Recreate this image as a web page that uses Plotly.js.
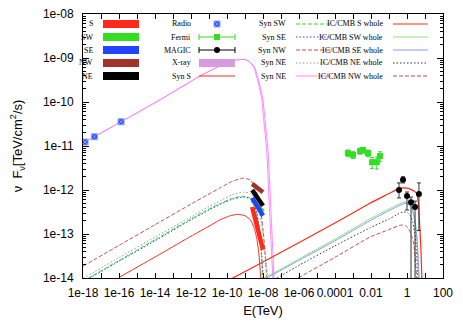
<!DOCTYPE html>
<html>
<head>
<meta charset="utf-8">
<script src="https://cdn.plot.ly/plotly-3.0.1.min.js"></script>
<style>
html, body { margin: 0; padding: 0; background: #fff; }
#sed { width: 463px; height: 323px; }
</style>
</head>
<body>
<div id="sed"></div>
<script>
// observed points
var radioE = [1.3e-18, 4.3e-18, 1.3e-16];
var radioF = [1.23e-11, 1.62e-11, 3.55e-11];

var fermiE = [5.2e-4, 1.0e-3, 2.5e-3, 3.6e-3, 6.8e-3, 1.15e-2, 2.1e-2, 3.2e-2];
var fermiF = [6.9e-12, 6.3e-12, 7.7e-12, 8.1e-12, 6.9e-12, 4.3e-12, 4.3e-12, 5.9e-12];
var fermiErrF = [1.2e-12, 1.1e-12, 1.2e-12, 1.2e-12, 1.2e-12, 1.2e-12, 1.3e-12, 1.5e-12];
var fermiErrE = [1.3e-4, 2.5e-4, 6e-4, 9e-4, 1.7e-3, 2.9e-3, 5e-3, 8e-3];

var magicE = [0.36, 0.6, 1.0, 1.67, 2.8, 4.6];
var magicF = [1.0e-12, 1.7e-12, 7.3e-13, 5.3e-13, 4.1e-13, 8.1e-13];
var magicErrUp = [4.5e-13, 3.0e-13, 1.7e-13, 1.6e-13, 1.5e-13, 6.4e-13];
var magicErrDown = [3.4e-13, 2.5e-13, 3.8e-13, 5.3e-13, 4.1e-13, 6.9e-13];

// X-ray bowties (2-10 keV)
var xrayE = [2.5e-9, 1.0e-8];
var xrayS = [4.1e-13, 4.4e-14];
var xraySW = [5.9e-13, 3.2e-13];
var xraySE = [6.6e-13, 2.6e-13];
var xrayNW = [1.38e-12, 8.9e-13];
var xrayNE = [1.0e-12, 4.4e-13];

// synchrotron models
var synS_E = [1e-16, 1e-14, 1e-12, 1e-11, 4.1e-11, 1.5e-10, 4e-10, 1e-9, 2e-9, 3.2e-9, 4.5e-9, 6e-9, 7.8e-9];
var synS_F = [1.03e-14, 3e-14, 8.9e-14, 1.5e-13, 2.1e-13, 2.6e-13, 2.8e-13, 2.6e-13, 2.1e-13, 1.4e-13, 8e-14, 3.3e-14, 8e-15];
var synSW_E = [1e-18, 1e-16, 1e-14, 1e-12, 1e-11, 5e-11, 2e-10, 7.9e-10, 2e-9, 4.1e-9, 6.8e-9, 1e-8];
var synSW_F = [8.5e-15, 2.5e-14, 7.4e-14, 2.2e-13, 3.7e-13, 5.1e-13, 6.5e-13, 7.2e-13, 6.6e-13, 3.55e-13, 9.5e-14, 8e-15];
var synSE_E = [1e-18, 1e-16, 1e-14, 1e-12, 1e-11, 5e-11, 2e-10, 7.9e-10, 2e-9, 4.3e-9, 7.2e-9, 1.05e-8];
var synSE_F = [8.1e-15, 2.4e-14, 7e-14, 2.1e-13, 3.5e-13, 4.9e-13, 6.2e-13, 6.9e-13, 6.3e-13, 3.4e-13, 9e-14, 8e-15];
var synNW_E = [1e-18, 1e-16, 1e-14, 1e-12, 1e-11, 5e-11, 2e-10, 7.9e-10, 1.9e-9, 3.6e-9, 6.8e-9, 1.15e-8, 1.66e-8];
var synNW_F = [1.86e-14, 5.5e-14, 1.62e-13, 4.8e-13, 8.1e-13, 1.17e-12, 1.58e-12, 1.86e-12, 1.7e-12, 1.17e-12, 4.6e-13, 7.2e-14, 8e-15];
var synNE_E = [1e-18, 1e-16, 1e-14, 1e-12, 1e-11, 5e-11, 2e-10, 7.9e-10, 1.9e-9, 4.1e-9, 7.8e-9, 1.3e-8, 1.9e-8];
var synNE_F = [9.8e-15, 2.9e-14, 8.5e-14, 2.45e-13, 4.2e-13, 5.9e-13, 7.9e-13, 8.9e-13, 8.5e-13, 5.9e-13, 2.1e-13, 4.4e-14, 8e-15];
// whole-remnant synchrotron (two runs)
var synWideE = [1e-18, 1.3e-16, 1.9e-14, 3.2e-12, 4.1e-11, 2.75e-10, 1e-9, 1.9e-9, 3.6e-9, 5.2e-9, 7.8e-9, 1e-8, 1.3e-8, 1.9e-8, 2.75e-8, 4.1e-8];
var synWideF = [1.17e-11, 3.55e-11, 1.12e-10, 3.9e-10, 6.6e-10, 8.9e-10, 9.3e-10, 8.1e-10, 5.9e-10, 3.55e-10, 1.86e-10, 1.12e-10, 3.9e-11, 8.1e-12, 3.55e-13, 1e-14];
var synWide2E = [1e-18, 1.3e-16, 1.9e-14, 3.2e-12, 4.1e-11, 2.75e-10, 1e-9, 1.9e-9, 3.2e-9, 4.6e-9, 6.8e-9, 8.7e-9, 1.1e-8, 1.6e-8, 2.3e-8, 3.5e-8];
var synWide2F = [1.17e-11, 3.55e-11, 1.12e-10, 3.9e-10, 6.6e-10, 8.9e-10, 9.3e-10, 8.1e-10, 5.9e-10, 3.55e-10, 1.86e-10, 1.12e-10, 3.9e-11, 8.1e-12, 3.55e-13, 1e-14];

// IC/CMB models
var icS_E = [1e-10, 1e-8, 1.15e-6, 1e-4, 8.7e-3, 0.1, 0.3, 0.6, 1.0, 1.48, 2.45, 3.6, 4.4, 5.25, 6.0, 6.8];
var icS_F = [8.5e-15, 2.3e-14, 6.6e-14, 1.78e-13, 5e-13, 8.3e-13, 1.05e-12, 1.12e-12, 1.1e-12, 1.05e-12, 9.5e-13, 8.1e-13, 4.5e-13, 1.23e-13, 4e-14, 8e-15];
var icSW_E = [1e-9, 1e-7, 1.15e-6, 1e-4, 8.7e-3, 0.1, 0.41, 0.78, 1.48, 2.0, 2.45, 3.0, 3.6, 4.7];
var icSW_F = [5.9e-15, 1.6e-14, 2.8e-14, 7.6e-14, 2.2e-13, 3.7e-13, 4.9e-13, 5.4e-13, 4.8e-13, 3.8e-13, 2.7e-13, 1.6e-13, 7.2e-14, 8e-15];
var icSE_E = [1e-9, 1e-7, 1.15e-6, 1e-4, 8.7e-3, 0.1, 0.41, 0.78, 1.48, 2.0, 2.45, 3.0, 3.7, 4.8];
var icSE_F = [5.4e-15, 1.5e-14, 2.6e-14, 7e-14, 2.0e-13, 3.4e-13, 4.5e-13, 5.0e-13, 4.4e-13, 3.5e-13, 2.5e-13, 1.5e-13, 6.8e-14, 8e-15];
var icNE_E = [6e-8, 1.15e-6, 1e-4, 8.7e-3, 0.1, 0.3, 0.6, 1.15, 1.6, 2.1, 2.6, 3.2, 4.1];
var icNE_F = [1e-14, 2e-14, 5.4e-14, 1.38e-13, 2.2e-13, 2.8e-13, 3.2e-13, 3.0e-13, 2.5e-13, 1.86e-13, 1.12e-13, 5.6e-14, 8e-15];
var icNW_E = [8.7e-7, 1e-4, 8.7e-3, 0.1, 0.41, 0.78, 1.2, 1.48, 2.0, 2.45, 3.6];
var icNW_F = [1e-14, 2.95e-14, 8.5e-14, 1.26e-13, 1.58e-13, 1.58e-13, 1.32e-13, 1.12e-13, 7.9e-14, 5.6e-14, 8e-15];

var xTickVals = [1e-18, 1e-16, 1e-14, 1e-12, 1e-10, 1e-8, 1e-6, 1e-4, 1e-2, 1, 100];
var xTickText = ['1e-18', '1e-16', '1e-14', '1e-12', '1e-10', '1e-08', '1e-06', '0.0001', '0.01', '1', '100'];
var xMinorVals = [1e-17, 1e-15, 1e-13, 1e-11, 1e-9, 1e-7, 1e-5, 1e-3, 0.1, 10];
var yTickVals = [1e-14, 1e-13, 1e-12, 1e-11, 1e-10, 1e-9, 1e-8];
var yTickText = ['1e-14', '1e-13', '1e-12', '1e-11', '1e-10', '1e-09', '1e-08'];

// styles
var RED = '#ff2a1a', GREEN = '#33dd22', BLUE = '#2244ff', BROWN = '#a3332a';
var DASH = '4px,2px', DOT = '1.5px,2px';

var st = {
    boxS:   {box: true, color: RED},
    boxSW:  {box: true, color: GREEN},
    boxSE:  {box: true, color: BLUE},
    boxNW:  {box: true, color: BROWN},
    boxNE:  {box: true, color: '#000'},
    radio:  {marker: {symbol: 'square-x', size: 6, color: BLUE, line: {color: '#8fa6ff', width: 1}}},
    fermi:  {marker: {symbol: 'square', size: 6, color: GREEN}, err: GREEN},
    magic:  {marker: {symbol: 'circle', size: 6, color: '#000'}, err: '#000'},
    xray:   {box: true, color: '#d89ae0'},
    synS:   {line: {color: RED, width: 1}},
    synSW:  {line: {color: GREEN, width: 1, dash: DASH}},
    synSE:  {line: {color: BLUE, width: 1, dash: DOT}},
    synNW:  {line: {color: '#c0504a', width: 1, dash: DASH}},
    synNE:  {line: {color: '#999', width: 1, dash: DOT}},
    synWide:{line: {color: '#ff88ff', width: 1}},
    icS:    {line: {color: RED, width: 1.2}},
    icSW:   {line: {color: '#88e27a', width: 1}},
    icSE:   {line: {color: '#8899ff', width: 1}},
    icNE:   {line: {color: '#333', width: 1, dash: DOT}},
    icNW:   {line: {color: '#c0504a', width: 1, dash: DASH}}
};

function curve(x, y, s) {
    return {x: x, y: y, mode: 'lines', type: 'scatter', line: Object.assign({shape: 'spline', smoothing: 0.4}, s.line), hoverinfo: 'skip'};
}
function bow(x, y, s) {
    return {x: x, y: y, mode: 'lines', type: 'scatter', line: {color: s.color, width: 4.5}, hoverinfo: 'skip'};
}

var traces = [
    curve(synWideE, synWideF, st.synWide),
    curve(synWide2E, synWide2F, st.synWide),
    curve(synS_E, synS_F, st.synS),
    curve(synSW_E, synSW_F, st.synSW),
    curve(synSE_E, synSE_F, st.synSE),
    curve(synNW_E, synNW_F, st.synNW),
    curve(synNE_E, synNE_F, st.synNE),
    curve(icS_E, icS_F, st.icS),
    curve(icSW_E, icSW_F, st.icSW),
    curve(icSE_E, icSE_F, st.icSE),
    curve(icNE_E, icNE_F, st.icNE),
    curve(icNW_E, icNW_F, st.icNW),
    bow(xrayE, xrayS, st.boxS),
    bow(xrayE, xraySW, st.boxSW),
    bow(xrayE, xraySE, st.boxSE),
    bow(xrayE, xrayNE, st.boxNE),
    bow(xrayE, xrayNW, st.boxNW),
    {x: radioE, y: radioF, mode: 'markers', type: 'scatter', marker: st.radio.marker},
    {x: fermiE, y: fermiF, mode: 'markers', type: 'scatter', marker: st.fermi.marker,
     error_y: {type: 'data', array: fermiErrF, color: GREEN, thickness: 1, width: 2},
     error_x: {type: 'data', array: fermiErrE, color: GREEN, thickness: 1, width: 2}},
    {x: magicE, y: magicF, mode: 'markers', type: 'scatter', marker: st.magic.marker,
     error_y: {type: 'data', array: magicErrUp, arrayminus: magicErrDown, color: '#333', thickness: 1, width: 2}}
];

// key, drawn gnuplot-style on an overlay axis (0..1 = plot area)
var L = 83, R = 443, T = 14, B = 278;
function px(xp) { return (xp - L) / (R - L); }
function py(yp) { return (B - yp) / (B - T); }

var keyCols = [
    {right: 95, x0: 103, x1: 139, items: [['S', st.boxS], ['SW', st.boxSW], ['SE', st.boxSE], ['NW', st.boxNW], ['NE', st.boxNE]]},
    {right: 193, x0: 199, x1: 235, items: [['Radio', st.radio], ['Fermi', st.fermi], ['MAGIC', st.magic], ['X-ray', st.xray], ['Syn S', st.synS]]},
    {right: 288, x0: 296, x1: 331, items: [['Syn SW', st.synSW], ['Syn SE', st.synSE], ['Syn NW', st.synNW], ['Syn NE', st.synNE], ['Syn NE', st.synWide]]},
    {right: 385, x0: 393, x1: 428, items: [['IC/CMB S whole', st.icS], ['IC/CMB SW whole', st.icSW], ['IC/CMB SE whole', st.icSE], ['IC/CMB NE whole', st.icNE], ['IC/CMB NW whole', st.icNW]]}
];
var keyRows = [24, 37, 50, 63, 76];
var annotations = [];

keyCols.forEach(function (col) {
    col.items.forEach(function (item, i) {
        var s = item[1], yy = py(keyRows[i]);
        var a = px(col.x0), b = px(col.x1);
        annotations.push({xref: 'paper', yref: 'paper', x: px(col.right), y: yy, xanchor: 'right', yanchor: 'middle',
            text: item[0], showarrow: false, font: {family: 'Liberation Serif, Times New Roman, serif', size: 8, color: '#000'}});
        var base = {xaxis: 'x2', yaxis: 'y2', type: 'scatter', hoverinfo: 'skip'};
        if (s.box) {
            traces.push(Object.assign({x: [a, b], y: [yy, yy], mode: 'lines', line: {color: s.color, width: 8}}, base));
        } else if (s.line) {
            traces.push(Object.assign({x: [a, b], y: [yy, yy], mode: 'lines', line: s.line}, base));
        } else if (s.err) {
            traces.push(Object.assign({x: [(a + b) / 2], y: [yy], mode: 'markers', marker: s.marker,
                error_x: {type: 'constant', value: (b - a) / 2, color: s.err, thickness: 1, width: 3}}, base));
        } else {
            traces.push(Object.assign({x: [(a + b) / 2], y: [yy], mode: 'markers', marker: s.marker}, base));
        }
    });
});

var tickFont = {family: 'Liberation Sans, Arial, sans-serif', size: 12, color: '#000'};

var layout = {
    width: 463,
    height: 323,
    margin: {l: L, r: 463 - R, t: T, b: 323 - B},
    paper_bgcolor: '#fff',
    plot_bgcolor: '#fff',
    showlegend: false,
    xaxis: {
        type: 'log', range: [-18, 2],
        tickmode: 'array', tickvals: xTickVals, ticktext: xTickText, tickangle: 0,
        ticks: 'inside', ticklen: 5, tickcolor: '#000', ticklabelstandoff: 4,
        minor: {tickmode: 'array', tickvals: xMinorVals, ticks: 'inside', ticklen: 5, tickcolor: '#000'},
        showline: true, linecolor: '#000', linewidth: 1, mirror: 'allticks',
        showgrid: false, zeroline: false, tickfont: tickFont,
        title: {text: 'E(TeV)', font: {family: 'Liberation Sans, Arial, sans-serif', size: 13, color: '#000'}, standoff: 6}
    },
    yaxis: {
        type: 'log', range: [-14, -8],
        tickmode: 'array', tickvals: yTickVals, ticktext: yTickText,
        ticks: 'inside', ticklen: 6, tickcolor: '#000', ticklabelstandoff: 6,
        minor: {dtick: 'D1', ticks: 'inside', ticklen: 3, tickcolor: '#000'},
        showline: true, linecolor: '#000', linewidth: 1, mirror: 'allticks',
        showgrid: false, zeroline: false, tickfont: tickFont,
        title: {text: 'ν  F<sub>ν</sub>[TeV/cm<sup>2</sup>/s)', font: {family: 'Liberation Sans, Arial, sans-serif', size: 13, color: '#000'}, standoff: 17}
    },
    xaxis2: {overlaying: 'x', range: [0, 1], visible: false, fixedrange: true},
    yaxis2: {overlaying: 'y', range: [0, 1], visible: false, fixedrange: true},
    annotations: annotations
};

Plotly.newPlot('sed', traces, layout, {staticPlot: true, displayModeBar: false});
</script>
</body>
</html>
